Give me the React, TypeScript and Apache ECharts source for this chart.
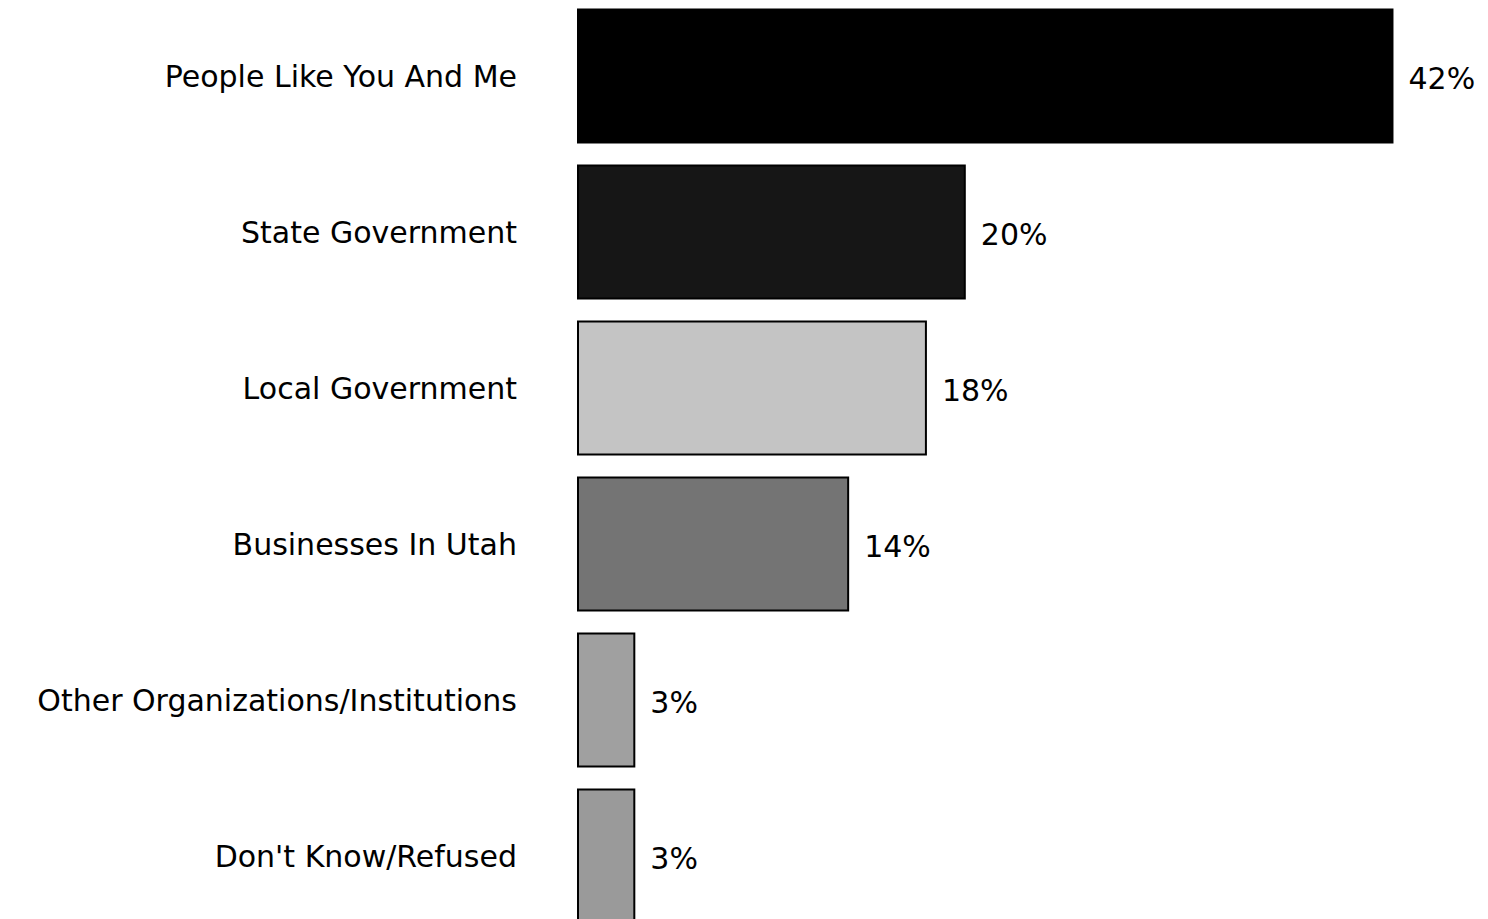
import React, { useEffect, useRef } from "react";
import * as echarts from "echarts";

const categories = [
  "People Like You And Me",
  "State Government",
  "Local Government",
  "Businesses In Utah",
  "Other Organizations/Institutions",
  "Don't Know/Refused",
];
const values = [42, 20, 18, 14, 3, 3];
const barColors = ["#000000", "#161616", "#c4c4c4", "#747474", "#a0a0a0", "#9a9a9a"];

export default function App() {
  const ref = useRef<HTMLDivElement>(null);
  useEffect(() => {
    if (!ref.current) return;
    const chart = echarts.init(ref.current, null, { renderer: "svg" });
    const font = "'DejaVu Sans', 'Liberation Sans', Arial, sans-serif";
    chart.setOption({
      animation: false,
      backgroundColor: "#ffffff",
      grid: { left: 577, top: 0, width: 972, height: 936, containLabel: false },
      xAxis: {
        type: "value",
        min: 0,
        max: 50,
        show: false,
      },
      yAxis: {
        type: "category",
        inverse: true,
        data: categories,
        axisLine: { show: false },
        axisTick: { show: false },
        axisLabel: {
          margin: 60,
          fontSize: 30,
          color: "#000",
          fontFamily: font,
        },
      },
      series: [
        {
          type: "bar",
          data: values.map((v, i) => ({
            value: v,
            itemStyle: { color: barColors[i], borderColor: "#000", borderWidth: 2 },
          })),
          barWidth: 135,
          label: {
            show: true,
            position: "right",
            distance: 15,
            formatter: "{c}%",
            fontSize: 30,
            color: "#000",
            fontFamily: font,
            offset: [0, 2],
          },
        },
      ],
    });
    return () => chart.dispose();
  }, []);
  return (
    <div
      ref={ref}
      style={{ position: "fixed", left: 0, top: -2, width: 1600, height: 940, background: "#fff" }}
    />
  );
}
